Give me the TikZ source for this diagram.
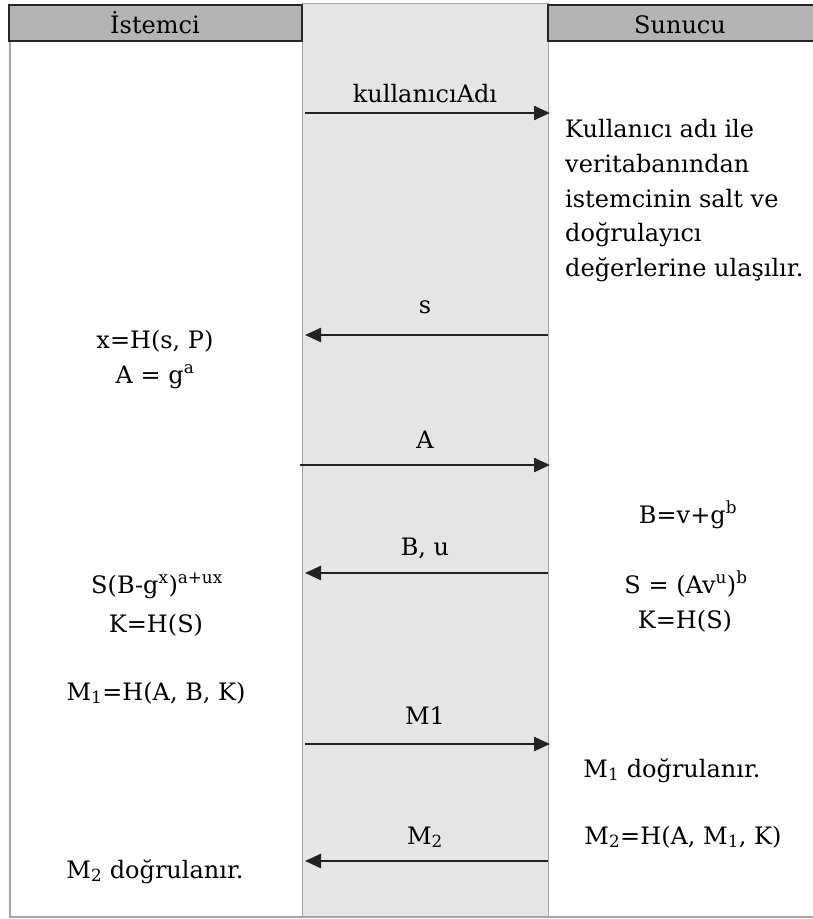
\documentclass[tikz,border=0pt]{standalone}
\usepackage{fontspec}
\setmainfont{DejaVu Serif}
\usetikzlibrary{arrows.meta}
\definecolor{headgray}{RGB}{180,180,180}
\definecolor{lanegray}{RGB}{229,229,229}
\definecolor{edgegray}{RGB}{165,165,165}
\definecolor{arrowgray}{RGB}{35,35,35}
\newcommand\txtsize{\fontsize{24}{34.5}\selectfont}

\begin{document}
\begin{tikzpicture}[x=1pt,y=-1pt,
  lbl/.style={font=\txtsize, inner sep=0pt, anchor=base},
  lblw/.style={lbl, anchor=base west},
  msg/.style={draw=arrowgray, line width=2.4pt, -{Triangle[length=16pt,width=14pt]}},
  header/.style={draw=black!85, line width=1.8pt, fill=headgray}]
\useasboundingbox (0,0) rectangle (812,919);
\fill[white] (0,0) rectangle (812,919);

% message lane between client and server
\draw[edgegray, fill=lanegray, line width=1pt] (302,3) rectangle (548,917);
% outer frame, left and bottom
\draw[edgegray, line width=2pt] (10,41) -- (10,917) -- (813,917);

% column headers
\draw[header] (9,5) rectangle (302,41);
\draw[header] (548,5) rectangle (818,41);
\node[lbl] (hc) at (155,33) {İstemci};
\node[lbl] (hs) at (680,33) {Sunucu};

% lane edges used as message end points
\coordinate (l1) at (305,113);  \coordinate (r1) at (550,113);
\coordinate (l2) at (305,335);  \coordinate (r2) at (548,335);
\coordinate (l3) at (300,465);  \coordinate (r3) at (550,465);
\coordinate (l4) at (305,573);  \coordinate (r4) at (548,573);
\coordinate (l5) at (305,744);  \coordinate (r5) at (550,744);
\coordinate (l6) at (305,861);  \coordinate (r6) at (548,861);

% messages
\draw[msg] (l1) -- (r1);
\draw[msg] (r2) -- (l2);
\draw[msg] (l3) -- (r3);
\draw[msg] (r4) -- (l4);
\draw[msg] (l5) -- (r5);
\draw[msg] (r6) -- (l6);

% message labels
\node[lbl] (m1) at (425,102) {kullanıcıAdı};
\node[lbl] (m2) at (425,313) {s};
\node[lbl] (m3) at (425,448) {A};
\node[lbl] (m4) at (425,555) {B, u};
\node[lbl] (m5) at (425,724) {M1};
\node[lbl] (m6) at (425,844) {M\textsubscript{2}};

% server side
\node[lblw] (p1) at (565,137) {Kullanıcı adı ile};
\node[lblw] (p2) at (565,172) {veritabanından};
\node[lblw] (p3) at (565,207) {istemcinin salt ve};
\node[lblw] (p4) at (565,241) {doğrulayıcı};
\node[lblw] (p5) at (565,276) {değerlerine ulaşılır.};
\node[lbl] (sb) at (688,523) {B=v+g\textsuperscript{b}};
\node[lbl] (ss) at (686,593) {S = (Av\textsuperscript{u})\textsuperscript{b}};
\node[lbl] (sk) at (685,628) {K=H(S)};
\node[lbl] (sm1) at (672,777) {M\textsubscript{1} doğrulanır.};
\node[lbl] (sm2) at (683,844) {M\textsubscript{2}=H(A, M\textsubscript{1}, K)};

% client side
\node[lbl] (cx) at (155,348) {x=H(s, P)};
\node[lbl] (ca) at (155,383) {A = g\textsuperscript{a}};
\node[lbl] (cs) at (157,593) {S(B-g\textsuperscript{x})\textsuperscript{a+ux}};
\node[lbl] (ck) at (156,632) {K=H(S)};
\node[lbl] (cm1) at (156,700) {M\textsubscript{1}=H(A, B, K)};
\node[lbl] (cm2) at (155,878) {M\textsubscript{2} doğrulanır.};
\end{tikzpicture}
\end{document}
